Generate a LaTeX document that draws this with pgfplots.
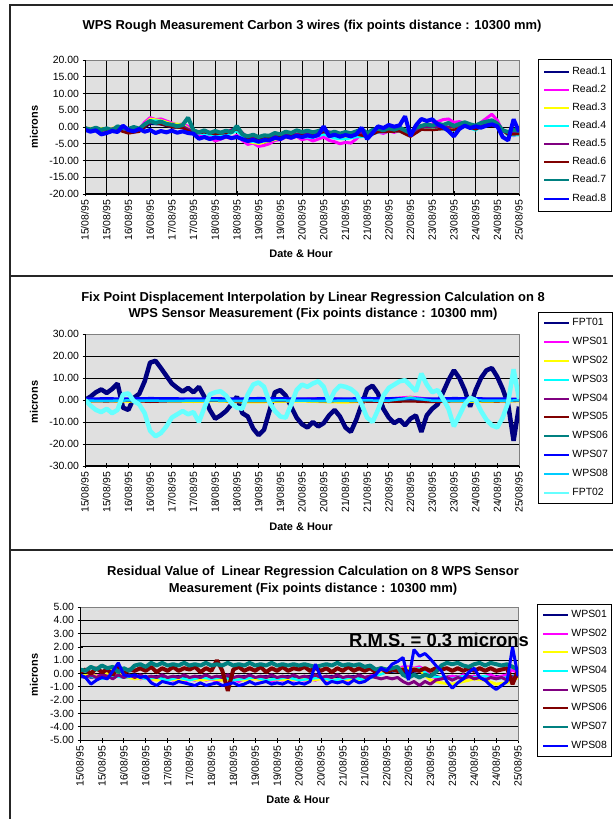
\documentclass[border=0pt]{standalone}
\usepackage{fontspec}
\setmainfont{Liberation Sans}
\usepackage{pgfplots}
\usepackage{pgfplotstable}
\pgfplotsset{compat=1.18}
\definecolor{cNavy}{HTML}{000080}
\definecolor{cMag}{HTML}{FF00FF}
\definecolor{cYel}{HTML}{FFFF00}
\definecolor{cCyan}{HTML}{00FFFF}
\definecolor{cPur}{HTML}{800080}
\definecolor{cMar}{HTML}{800000}
\definecolor{cTeal}{HTML}{008080}
\definecolor{cBlue}{HTML}{0000FF}
\definecolor{cSky}{HTML}{00CCFF}
\definecolor{cLcy}{HTML}{66FFFF}
\definecolor{bgc}{RGB}{224,224,224}
\newcommand\tickfont{\fontsize{10.5}{12}\selectfont}
\newcommand\legfont{\fontsize{10.5}{12}\selectfont}
\newcommand\labfont{\bfseries\fontsize{11}{13}\selectfont}
\newcommand\titfont{\bfseries\fontsize{13}{15}\selectfont}

% Panel 1: Read.2, Read.7, Read.8
\pgfplotstableread{
x r2 r7 r8
0 -0.5 -0.3 -0.8
0.25 -1.0 -0.8 -1.4
0.5 -0.4 -0.2 -1.0
0.75 -1.2 -0.9 -2.2
1 -0.7 -0.4 -1.8
1.25 -1.1 -1.0 -1.2
1.5 -0.1 0.2 -1.5
1.75 -0.6 -0.3 0.4
2 -0.8 -0.6 -0.9
2.25 -0.2 0.0 -1.3
2.5 -0.6 -0.5 -0.6
2.75 1.4 0.8 -1.4
3 2.8 1.8 -0.9
3.25 2.2 1.2 -1.8
3.5 2.4 1.6 -1.2
3.75 1.8 0.9 -1.6
4 1.2 0.7 -1.1
4.25 0.6 0.2 -1.7
4.5 0.9 0.6 -1.3
4.75 0.2 2.8 -1.8
5 -1.8 -1.0 -2.0
5.25 -2.6 -1.6 -3.5
5.5 -2.2 -1.0 -3.0
5.75 -3.0 -1.8 -3.6
6 -4.2 -1.2 -3.1
6.25 -3.6 -1.7 -3.4
6.5 -3.0 -1.1 -2.8
6.75 -3.5 -1.6 -3.3
7 -2.4 0.3 -3.0
7.25 -4.0 -2.2 -3.6
7.5 -5.2 -2.8 -4.2
7.75 -4.8 -2.3 -3.8
8 -5.8 -3.0 -4.4
8.25 -5.5 -2.5 -3.9
8.5 -5.0 -2.6 -4.0
8.75 -4.0 -1.8 -3.2
9 -3.8 -2.2 -3.6
9.25 -3.0 -1.4 -2.8
9.5 -3.4 -1.8 -3.2
9.75 -2.8 -1.0 -2.6
10 -3.8 -1.5 -3.0
10.25 -3.4 -1.1 -2.5
10.5 -4.2 -1.6 -2.9
10.75 -3.6 -1.2 -2.4
11 -3.0 -0.6 0.2
11.25 -4.0 -1.9 -2.8
11.5 -4.4 -1.4 -2.3
11.75 -5.0 -2.0 -2.9
12 -4.6 -1.5 -2.4
12.25 -4.8 -1.9 -2.8
12.5 -3.6 -1.3 -2.2
12.75 -2.0 -0.7 -0.2
13 -2.8 -1.8 -3.6
13.25 -2.0 -0.9 -1.8
13.5 -1.5 -0.5 0.2
13.75 -1.9 -1.0 -0.3
14 -1.2 -0.3 0.6
14.25 -1.6 -0.8 0.1
14.5 -1.0 -0.2 0.5
14.75 -1.8 -1.0 3.2
15 -2.4 -1.8 -2.7
15.25 -0.8 -0.2 0.5
15.5 0.0 0.3 2.4
15.75 0.5 0.8 1.8
16 0.9 0.4 2.3
16.25 1.6 1.0 0.8
16.5 2.2 0.6 0.0
16.75 2.4 1.2 -1.2
17 1.4 0.3 -2.8
17.25 1.6 0.9 -0.6
17.5 1.2 1.4 0.4
17.75 0.6 0.8 -0.3
18 0.2 0.4 0.2
18.25 1.4 1.2 -0.2
18.5 2.6 1.6 0.4
18.75 3.8 2.0 0.8
19 2.0 1.0 0.2
19.25 -1.2 -1.0 -3.0
19.5 -2.0 -1.5 -4.0
19.75 -2.6 -0.8 2.3
20 -1.8 -1.2 -1.4
}\pA

% Panel 1: Read.1, Read.3, Read.4, Read.5, Read.6
\pgfplotstableread{
x r1 r3 r4 r5 r6
0 -1.1 -0.4 -0.6 -0.7 -0.2
0.5 -1.0 -0.3 -0.5 -0.6 -1.1
1 -1.2 -0.6 -0.8 -0.8 -0.9
1.5 -0.6 0.0 -0.2 -0.2 -0.9
2 -1.4 -0.8 -1.0 -1.0 -1.9
2.5 -1.3 -0.6 -0.8 -0.9 -1.4
3 1.0 2.4 2.0 1.4 1.5
3.5 0.8 2.0 1.8 1.2 0.9
4 -0.1 1.0 0.6 0.3 0.0
4.5 -0.2 0.8 0.5 0.2 -0.3
5 -1.8 -1.6 -1.8 -1.4 -1.9
5.5 -1.8 -1.8 -2.0 -1.4 -1.6
6 -2.0 -2.4 -2.6 -1.6 -2.1
6.5 -1.9 -2.2 -2.4 -1.5 -1.8
7 -0.5 -1.0 -1.2 -0.1 -0.6
7.5 -3.6 -4.4 -4.2 -3.2 -3.5
8 -3.8 -5.0 -4.6 -3.4 -3.7
8.5 -3.4 -4.2 -4.0 -3.0 -3.3
9 -3.0 -3.4 -3.2 -2.6 -2.9
9.5 -2.6 -3.0 -2.8 -2.2 -2.6
10 -2.3 -2.8 -3.0 -1.9 -2.4
10.5 -2.4 -3.0 -3.2 -2.0 -2.4
11 -1.4 -2.0 -2.2 -1.0 -1.5
11.5 -2.2 -3.2 -3.4 -1.8 -2.2
12 -2.3 -3.4 -3.6 -1.9 -2.4
12.5 -2.1 -2.8 -3.0 -1.7 -2.2
13 -2.6 -2.6 -2.8 -2.2 -2.9
13.5 -1.3 -1.4 -1.6 -0.9 -1.5
14 -1.1 -1.2 -1.4 -0.7 -1.4
14.5 -1.0 -1.0 -1.2 -0.6 -1.3
15 -2.6 -2.4 -2.6 -2.2 -2.9
15.5 -0.5 -0.6 -0.8 -0.1 -0.8
16 -0.4 -0.6 -0.8 0.0 -0.9
16.5 -0.2 -0.4 -0.6 0.2 -0.6
17 -0.5 -0.8 -1.0 -0.1 -0.9
17.5 0.6 0.4 0.2 1.0 0.3
18 -0.4 -0.8 -1.0 0.0 -0.7
18.5 0.8 1.4 1.2 1.2 0.6
19 0.2 0.8 0.6 0.6 0.1
19.5 -2.3 -2.4 -2.6 -1.9 -2.3
20 -2.0 -2.2 -2.4 -1.6 -2.1
}\pB

% Panel 2: FPT01, FPT02
\pgfplotstableread{
x f1 f2
0 0.0 0.0
0.25 1.5 -2.5
0.5 3.5 -4.5
0.75 4.8 -5.5
1 3.2 -4.0
1.25 5.0 -6.0
1.5 7.5 -4.5
1.75 -3.5 2.5
2 -4.5 3.0
2.25 1.0 -0.5
2.5 2.8 -2.0
2.75 8.5 -6.0
3 17.0 -14.0
3.25 17.8 -16.5
3.5 14.5 -15.0
3.75 11.0 -12.0
4 7.5 -8.0
4.25 5.5 -6.5
4.5 3.8 -5.0
4.75 5.5 -6.5
5 3.5 -5.5
5.25 6.0 -10.0
5.5 1.5 -3.5
5.75 -4.5 2.5
6 -8.5 3.5
6.25 -7.0 4.0
6.5 -5.0 2.0
6.75 -2.0 -1.5
7 1.5 -3.5
7.25 -6.0 -4.0
7.5 -7.5 2.5
7.75 -13.0 7.0
8 -16.0 8.0
8.25 -13.5 6.0
8.5 -5.0 -1.0
8.75 3.5 -5.0
9 4.5 -7.5
9.25 2.0 -8.0
9.5 -3.0 -2.0
9.75 -8.0 4.5
10 -11.0 7.0
10.25 -12.5 6.0
10.5 -10.0 7.5
10.75 -12.0 8.5
11 -10.5 6.0
11.25 -7.0 -1.0
11.5 -4.5 4.0
11.75 -7.5 6.5
12 -12.5 6.0
12.25 -14.5 5.0
12.5 -9.0 3.0
12.75 -2.0 -2.0
13 5.0 -8.0
13.25 6.5 -10.0
13.5 3.0 -4.5
13.75 -4.0 2.0
14 -8.0 5.5
14.25 -10.5 7.0
14.5 -9.0 8.5
14.75 -11.5 9.0
15 -8.5 6.5
15.25 -7.0 4.0
15.5 -14.5 12.0
15.75 -7.0 7.0
16 -4.0 3.5
16.25 -2.0 4.5
16.5 3.5 0.5
16.75 9.0 -4.0
17 13.5 -12.0
17.25 10.0 -7.0
17.5 4.5 -2.0
17.75 -3.0 1.0
18 4.5 0.0
18.25 10.0 -5.0
18.5 13.5 -9.0
18.75 14.5 -11.5
19 10.5 -12.5
19.25 5.0 -8.0
19.5 -2.0 -1.0
19.75 -18.5 14.0
20 -3.0 0.5
}\pC

% Panel 2: WPS01..WPS08
\pgfplotstableread{
x w1 w2 w3 w4 w5 w6 w7 w8
0 0.4 -0.6 -0.2 0.1 -0.4 0.2 0.5 -0.3
1 0.5 -0.5 -0.1 0.2 -0.6 0.1 0.6 -0.4
2 0.3 -0.7 -0.3 0.0 -0.3 0.3 0.5 -0.2
3 0.6 -0.4 -0.2 0.1 -0.8 0.2 0.7 -0.3
4 0.4 -0.6 -0.1 0.2 -0.5 0.1 0.6 -0.4
5 0.5 -0.8 -0.3 0.0 -0.4 0.3 0.5 -0.3
6 0.3 -0.5 -0.2 0.1 -0.3 0.2 0.6 -0.2
7 0.4 -0.9 -0.1 0.2 -0.6 0.1 0.5 -0.4
8 0.6 -1.0 -0.2 0.1 -0.5 0.2 0.7 -0.3
9 0.4 -0.7 -0.3 0.0 -0.4 0.3 0.6 -0.2
10 0.5 -0.6 -0.1 0.1 -0.3 0.2 0.5 -0.3
11 0.8 -0.9 -0.2 0.2 -0.5 0.1 0.6 -0.4
12 0.4 -1.1 -0.3 0.1 -0.4 0.2 0.5 -0.3
13 0.5 -0.6 -0.2 0.0 -0.7 0.3 0.7 -0.2
14 0.7 -0.8 -0.1 0.1 -0.8 0.2 0.6 -0.3
15 1.4 1.2 0.9 0.3 -0.6 0.4 0.6 1.0
16 0.4 -0.7 -0.2 0.2 -0.9 0.2 0.5 -0.3
17 0.6 -0.6 -0.1 0.1 -0.5 0.1 0.7 -0.4
18 0.5 -0.8 -0.3 0.0 -0.4 0.3 0.6 -0.2
19 0.4 -0.7 -0.2 0.2 -0.6 0.2 0.5 -0.3
20 0.3 -0.5 -0.1 0.1 -0.3 0.2 0.4 -0.2
}\pD

% Panel 3: WPS02, WPS05, WPS06, WPS07, WPS08
\pgfplotstableread{
x w2 w5 w6 w7 w8
0 -0.1 -0.2 0.1 0.3 -0.1
0.25 -0.3 -0.3 0.3 0.2 -0.3
0.5 0.0 -0.1 0.0 0.5 -0.8
0.75 -0.2 -0.3 0.4 0.3 -0.5
1 -0.1 -0.1 0.1 0.6 -0.3
1.25 -0.3 -0.2 0.3 0.4 -0.4
1.5 0.1 -0.4 -0.1 0.5 0.2
1.75 -0.2 -0.1 0.5 0.1 0.8
2 -0.1 -0.3 0.0 0.4 -0.1
2.25 -0.3 -0.1 0.3 0.2 -0.2
2.5 -0.2 -0.3 0.2 0.6 -0.1
2.75 -0.4 -0.1 0.4 0.7 -0.3
3 -0.3 -0.3 0.2 0.5 -0.2
3.25 -0.5 -0.2 0.5 0.8 -0.7
3.5 -0.4 -0.3 0.1 0.6 -0.9
3.75 -0.5 -0.1 0.4 0.8 -0.6
4 -0.3 -0.3 0.2 0.6 -0.7
4.25 -0.5 -0.2 0.5 0.7 -0.8
4.5 -0.4 -0.3 0.2 0.6 -0.6
4.75 -0.6 -0.1 0.4 0.8 -0.7
5 -0.4 -0.3 0.3 0.6 -0.8
5.25 -0.5 -0.2 0.5 0.7 -0.9
5.5 -0.3 -0.3 0.1 0.6 -0.7
5.75 -0.5 -0.1 0.4 0.8 -0.9
6 -0.4 -0.3 0.2 0.6 -0.8
6.25 -0.6 -0.2 1.0 0.7 -0.7
6.5 -0.4 -0.3 0.2 0.6 -0.9
6.75 -0.5 -0.1 -1.3 0.8 -0.8
7 -0.4 -0.3 0.3 0.6 -0.7
7.25 -0.6 -0.2 0.5 0.7 -0.9
7.5 -0.4 -0.3 0.2 0.6 -0.8
7.75 -0.5 -0.1 0.4 0.8 -0.6
8 -0.3 -0.3 0.2 0.6 -0.8
8.25 -0.5 -0.2 0.5 0.7 -0.7
8.5 -0.4 -0.3 0.1 0.6 -0.6
8.75 -0.6 -0.1 0.4 0.8 -0.8
9 -0.4 -0.3 0.2 0.6 -0.7
9.25 -0.5 -0.2 0.5 0.7 -0.8
9.5 -0.3 -0.3 0.2 0.6 -0.6
9.75 -0.5 -0.1 0.4 0.7 -0.8
10 -0.4 -0.3 0.3 0.6 -0.7
10.25 -0.5 -0.2 0.5 0.7 -0.8
10.5 -0.4 -0.3 0.2 0.6 -0.6
10.75 -0.5 -0.1 0.4 0.5 0.7
11 -0.3 -0.3 0.2 0.6 -0.3
11.25 -0.5 -0.2 0.4 0.7 -0.8
11.5 -0.4 -0.3 0.1 0.6 -0.6
11.75 -0.6 -0.1 0.4 0.8 -0.7
12 -0.4 -0.3 0.2 0.6 -0.6
12.25 -0.5 -0.2 0.5 0.7 -0.8
12.5 -0.3 -0.3 0.2 0.6 -0.5
12.75 -0.5 -0.1 0.4 0.7 -0.7
13 -0.3 -0.3 0.2 0.5 -0.6
13.25 -0.2 -0.2 0.4 0.6 -0.3
13.5 -0.1 -0.3 0.1 0.3 -0.1
13.75 0.0 -0.4 0.4 0.4 0.4
14 0.3 -0.3 0.1 0.3 0.2
14.25 0.5 -0.4 0.3 0.4 0.7
14.5 0.3 -0.3 0.2 0.5 0.9
14.75 0.5 -0.6 0.3 -0.1 1.2
15 0.5 -0.8 0.1 -0.3 -0.5
15.25 0.4 -0.6 0.3 -0.1 1.8
15.5 0.5 -0.9 0.2 -0.3 1.3
15.75 0.3 -0.6 0.4 -0.1 1.5
16 -0.2 -0.8 0.2 -0.2 1.1
16.25 -0.3 -0.5 0.4 0.1 0.6
16.5 -0.4 -0.4 0.3 0.6 0.2
16.75 -0.3 -0.3 0.4 0.8 -0.6
17 -0.2 -0.5 0.2 0.7 -1.1
17.25 -0.3 -0.3 0.4 0.8 -0.7
17.5 -0.1 -0.4 0.2 0.6 -0.4
17.75 -0.3 -0.2 0.4 0.5 0.1
18 -0.2 -0.4 0.2 0.7 0.4
18.25 -0.3 -0.3 0.4 0.8 -0.3
18.5 -0.2 -0.5 0.2 0.6 -0.5
18.75 -0.1 -0.3 0.4 0.8 -0.9
19 -0.3 -0.4 0.2 0.7 -1.2
19.25 -0.2 -0.3 0.3 0.6 -0.9
19.5 -0.1 -0.5 0.4 0.7 -0.6
19.75 0.3 -0.3 -0.8 0.5 2.0
20 0.0 -0.2 0.2 0.3 -0.2
}\pE

% Panel 3: WPS01, WPS03, WPS04
\pgfplotstableread{
x w1 w3 w4
0 -0.1 -0.2 -0.3
0.5 -0.3 -0.1 -0.2
1 -0.2 -0.3 -0.4
1.5 -0.1 0.3 -0.2
2 -0.3 -0.2 -0.3
2.5 -0.2 -0.4 -0.2
3 -0.3 -0.3 -0.4
3.5 -0.2 -0.5 -0.3
4 -0.3 -0.4 -0.5
4.5 -0.2 -0.5 -0.3
5 -0.3 -0.4 -0.5
5.5 -0.2 -0.5 -0.3
6 -0.3 -0.4 -0.4
6.5 -0.2 -0.5 -0.3
7 -0.3 -0.4 -0.5
7.5 -0.2 -0.5 -0.4
8 -0.3 -0.4 -0.3
8.5 -0.2 -0.5 -0.5
9 -0.3 -0.4 -0.4
9.5 -0.2 -0.5 -0.3
10 -0.3 -0.4 -0.5
10.5 -0.2 -0.5 -0.4
11 -0.3 -0.4 -0.3
11.5 -0.2 -0.5 -0.5
12 -0.3 -0.4 -0.4
12.5 -0.2 -0.5 -0.3
13 -0.3 -0.4 -0.5
13.5 -0.1 -0.2 -0.2
14 0.1 0.2 0.1
14.5 0.2 0.3 0.4
15 0.1 0.4 0.2
15.5 0.2 0.3 0.4
16 -0.1 -0.5 -0.2
16.5 -0.3 -0.7 -0.3
17 -0.2 -0.8 -0.4
17.5 -0.3 -0.6 -0.2
18 -0.2 -0.4 -0.3
18.5 -0.3 -0.5 -0.2
19 -0.2 -0.8 -0.4
19.5 -0.3 -0.7 -0.3
20 -0.1 -0.3 -0.2
}\pF

\pgfplotsset{
  wps/.style={
    scale only axis, no markers,
    xmin=0, xmax=20, xtick={0,...,20},
    xticklabels={15/08/95,15/08/95,16/08/95,16/08/95,17/08/95,17/08/95,18/08/95,18/08/95,19/08/95,19/08/95,20/08/95,20/08/95,21/08/95,21/08/95,22/08/95,22/08/95,23/08/95,23/08/95,24/08/95,24/08/95,25/08/95},
    x tick label style={rotate=90, anchor=east, font=\tickfont},
    y tick label style={font=\tickfont},
    tick align=center, major tick length=5bp,
    tick style={black, line width=0.8bp},
    xtick pos=bottom, ytick pos=left,
    axis background/.style={fill=bgc},
    axis line style={draw=gray, line width=1bp},
    ymajorgrids, major grid style={black, line width=0.9bp},
    clip mode=individual,
    every axis plot/.append style={line join=bevel},
    legend cell align=left,
    legend image code/.code={\draw[##1,line width=2bp] (0bp,0bp) -- (25bp,0bp);},
    legend style={line width=0.8bp, fill=white, font=\legfont,
      inner xsep=5bp, anchor=north west,
      nodes={inner sep=0pt, text height=7.5bp, text depth=2.5bp},
      /tikz/every odd column/.append style={column sep=2bp}},
  }
}

\begin{document}
\begin{tikzpicture}
\path[use as bounding box] (0,0) rectangle (613bp,-819bp);
% frames
\draw[line width=1.2bp, black!85] (613bp,-5bp) -- (10bp,-5bp) -- (10bp,-819bp);
\draw[line width=1.2bp, black!85] (10bp,-276bp) -- (613bp,-276bp);
\draw[line width=1.2bp, black!85] (10bp,-550bp) -- (613bp,-550bp);

% ---------- Panel 1 ----------
\node[font=\titfont] at (312bp,-26bp) {WPS Rough Measurement Carbon 3 wires (fix points distance : 10300 mm)};
\node[font=\labfont, rotate=90] at (34bp,-127bp) {microns};
\node[font=\labfont] at (301bp,-254bp) {Date \& Hour};
\begin{axis}[wps, at={(85bp,-60bp)}, anchor=north west, width=434bp, height=134bp,
  ymin=-20, ymax=20, ytick={-20,-15,...,20},
  yticklabels={-20.00,-15.00,-10.00,-5.00,0.00,5.00,10.00,15.00,20.00},
  xmajorgrids,
  legend style={at={(axis description cs:1.0438,1.0075)}, row sep=8.1bp, inner ysep=7.5bp}]
\addplot[draw=cNavy, line width=2.5bp] table[x=x,y=r1]{\pB}; \addlegendentry{Read.1}
\addplot[draw=cMag, line width=3bp] table[x=x,y=r2]{\pA}; \addlegendentry{Read.2}
\addplot[draw=cYel, line width=2.5bp] table[x=x,y=r3]{\pB}; \addlegendentry{Read.3}
\addplot[draw=cCyan, line width=2.5bp] table[x=x,y=r4]{\pB}; \addlegendentry{Read.4}
\addplot[draw=cPur, line width=2.5bp] table[x=x,y=r5]{\pB}; \addlegendentry{Read.5}
\addplot[draw=cMar, line width=2.5bp] table[x=x,y=r6]{\pB}; \addlegendentry{Read.6}
\addplot[draw=cTeal, line width=4bp] table[x=x,y=r7]{\pA}; \addlegendentry{Read.7}
\addplot[draw=cBlue, line width=4bp] table[x=x,y=r8]{\pA}; \addlegendentry{Read.8}
\draw[black, line width=1bp] (rel axis cs:0,1) -- (rel axis cs:0,0) -- (rel axis cs:1,0);
\end{axis}

% ---------- Panel 2 ----------
\node[font=\titfont] at (313bp,-298bp) {Fix Point Displacement Interpolation by Linear Regression Calculation on 8};
\node[font=\titfont] at (313bp,-314bp) {WPS Sensor Measurement (Fix points distance : 10300 mm)};
\node[font=\labfont, rotate=90] at (34bp,-402bp) {microns};
\node[font=\labfont] at (301bp,-527bp) {Date \& Hour};
\begin{axis}[wps, at={(85bp,-334bp)}, anchor=north west, width=434bp, height=132bp,
  ymin=-30, ymax=30, ytick={-30,-20,...,30},
  yticklabels={-30.00,-20.00,-10.00,0.00,10.00,20.00,30.00},
  legend style={at={(axis description cs:1.0438,1.1667)}, row sep=8.8bp, inner ysep=6bp}]
\addplot[draw=cNavy, line width=4.5bp] table[x=x,y=f1]{\pC}; \addlegendentry{FPT01}
\addplot[draw=cMag, line width=2.5bp] table[x=x,y=w1]{\pD}; \addlegendentry{WPS01}
\addplot[draw=cYel, line width=2.5bp] table[x=x,y=w2]{\pD}; \addlegendentry{WPS02}
\addplot[draw=cCyan, line width=2.5bp] table[x=x,y=w3]{\pD}; \addlegendentry{WPS03}
\addplot[draw=cPur, line width=2.5bp] table[x=x,y=w4]{\pD}; \addlegendentry{WPS04}
\addplot[draw=cMar, line width=2.5bp] table[x=x,y=w5]{\pD}; \addlegendentry{WPS05}
\addplot[draw=cTeal, line width=2.5bp] table[x=x,y=w6]{\pD}; \addlegendentry{WPS06}
\addplot[draw=cBlue, line width=3bp] table[x=x,y=w7]{\pD}; \addlegendentry{WPS07}
\addplot[draw=cSky, line width=2.5bp] table[x=x,y=w8]{\pD}; \addlegendentry{WPS08}
\addplot[draw=cLcy, line width=4.5bp] table[x=x,y=f2]{\pC}; \addlegendentry{FPT02}
\draw[black, line width=1bp] (rel axis cs:0,1) -- (rel axis cs:0,0) -- (rel axis cs:1,0);
\end{axis}

% ---------- Panel 3 ----------
\node[font=\titfont] at (313bp,-572bp) {Residual Value of\ \ Linear Regression Calculation on 8 WPS Sensor};
\node[font=\titfont] at (313bp,-589bp) {Measurement (Fix points distance : 10300 mm)};
\node[font=\labfont, rotate=90] at (34bp,-675bp) {microns};
\node[font=\labfont] at (298bp,-800bp) {Date \& Hour};
\begin{axis}[wps, at={(80bp,-607bp)}, anchor=north west, width=438bp, height=133bp,
  ymin=-5, ymax=5, ytick={-5,...,5},
  yticklabels={-5.00,-4.00,-3.00,-2.00,-1.00,0.00,1.00,2.00,3.00,4.00,5.00},
  legend style={at={(axis description cs:1.0434,1.0226)}, row sep=8.7bp, inner ysep=5.5bp}]
\addplot[draw=cNavy, line width=2.5bp] table[x=x,y=w1]{\pF}; \addlegendentry{WPS01}
\addplot[draw=cMag, line width=3bp] table[x=x,y=w2]{\pE}; \addlegendentry{WPS02}
\addplot[draw=cYel, line width=3bp] table[x=x,y=w3]{\pF}; \addlegendentry{WPS03}
\addplot[draw=cCyan, line width=2.5bp] table[x=x,y=w4]{\pF}; \addlegendentry{WPS04}
\addplot[draw=cPur, line width=3bp] table[x=x,y=w5]{\pE}; \addlegendentry{WPS05}
\addplot[draw=cMar, line width=4bp] table[x=x,y=w6]{\pE}; \addlegendentry{WPS06}
\addplot[draw=cTeal, line width=4bp] table[x=x,y=w7]{\pE}; \addlegendentry{WPS07}
\addplot[draw=cBlue, line width=3bp] table[x=x,y=w8]{\pE}; \addlegendentry{WPS08}
\draw[black, line width=1bp] (rel axis cs:0,1) -- (rel axis cs:0,0) -- (rel axis cs:1,0);
\end{axis}
\node[font=\bfseries\fontsize{18.5}{20}\selectfont, anchor=west, inner sep=0pt] at (349bp,-640bp) {R.M.S. = 0.3 microns};
\end{tikzpicture}
\end{document}
